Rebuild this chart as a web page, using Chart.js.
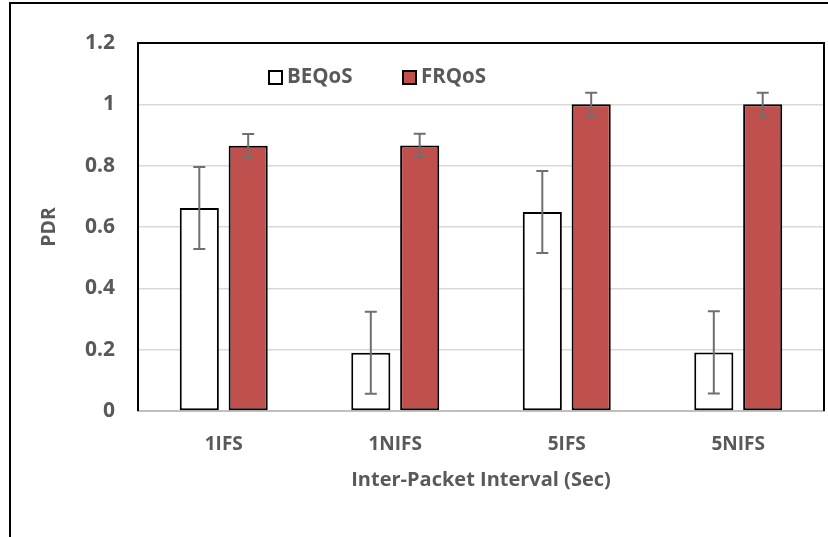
<!DOCTYPE html>
<html>
<head>
<meta charset="utf-8">
<script src="https://cdn.jsdelivr.net/npm/chart.js@4.4.1/dist/chart.umd.min.js"></script>
<style>
    body { margin: 0; background: #fff; }
    #wrap { position: relative; width: 828px; height: 537px; overflow: hidden; }
    #frame { position: absolute; left: 9px; top: 2px; width: 900px; height: 600px;
             border-left: 2px solid #000; border-top: 2px solid #000; pointer-events: none; }
</style>
</head>
<body>
<div id="wrap">
    <canvas id="grafico" width="828" height="537"></canvas>
    <div id="frame"></div>
</div>
<script>
// datos
var categorias = ['1IFS', '1NIFS', '5IFS', '5NIFS'];
var beqos = [0.662, 0.19, 0.649, 0.191];
var frqos = [0.865, 0.866, 1.0, 1.0];
var beqosErr = [0.134, 0.134, 0.134, 0.134];
var frqosErr = [0.038, 0.038, 0.038, 0.038];
var yTicks = [0, 0.2, 0.4, 0.6, 0.8, 1, 1.2];

var gris = '#595959';
var fuente = '"Open Sans", "DejaVu Sans", sans-serif';

// barras de error + borde del area + leyenda
var extras = {
    id: 'extras',
    afterDatasetsDraw: function(chart) {
        var ctx = chart.ctx;
        var y = chart.scales.y;
        var errores = [beqosErr, frqosErr];
        ctx.save();
        ctx.strokeStyle = '#6f6f6f';
        ctx.lineWidth = 2;
        chart.data.datasets.forEach(function(ds, d) {
            var meta = chart.getDatasetMeta(d);
            meta.data.forEach(function(bar, i) {
                var v = ds.data[i];
                var e = errores[d][i];
                var y1 = y.getPixelForValue(v + e);
                var y2 = y.getPixelForValue(v - e);
                ctx.beginPath();
                ctx.moveTo(bar.x, y1); ctx.lineTo(bar.x, y2);
                ctx.moveTo(bar.x - 6, y1); ctx.lineTo(bar.x + 6, y1);
                ctx.moveTo(bar.x - 6, y2); ctx.lineTo(bar.x + 6, y2);
                ctx.stroke();
            });
        });
        ctx.restore();
    },
    afterDraw: function(chart) {
        var ctx = chart.ctx;
        var a = chart.chartArea;
        ctx.save();
        ctx.strokeStyle = '#000';
        ctx.lineWidth = 2;
        ctx.beginPath();
        ctx.moveTo(a.left, a.bottom);
        ctx.lineTo(a.left, a.top);
        ctx.lineTo(a.right, a.top);
        ctx.lineTo(a.right, a.bottom);
        ctx.stroke();

        // leyenda
        var items = [
            { texto: 'BEQoS', color: '#ffffff', x: 269 },
            { texto: 'FRQoS', color: '#C0504D', x: 403 }
        ];
        ctx.font = 'bold 20.5px ' + fuente;
        ctx.textBaseline = 'middle';
        items.forEach(function(it) {
            ctx.fillStyle = it.color;
            ctx.fillRect(it.x, 71, 13, 13);
            ctx.strokeStyle = '#000';
            ctx.lineWidth = 2;
            ctx.strokeRect(it.x, 71, 13, 13);
            ctx.fillStyle = gris;
            ctx.fillText(it.texto, it.x + 18, 77);
        });
        ctx.restore();
    }
};

var grafico = new Chart(document.getElementById('grafico'), {
    type: 'bar',
    data: {
        labels: categorias,
        datasets: [{
            label: 'BEQoS',
            data: beqos,
            backgroundColor: '#ffffff',
            borderColor: '#000000',
            borderWidth: 2,
            borderSkipped: false,
            categoryPercentage: 0.57,
            barPercentage: 0.8
        }, {
            label: 'FRQoS',
            data: frqos,
            backgroundColor: '#C0504D',
            borderColor: '#000000',
            borderWidth: 2,
            borderSkipped: false,
            categoryPercentage: 0.57,
            barPercentage: 0.8
        }]
    },
    options: {
        responsive: false,
        animation: false,
        layout: { padding: { left: 0, top: 43, right: 4, bottom: 0 } },
        plugins: {
            legend: { display: false },
            tooltip: { enabled: false }
        },
        scales: {
            x: {
                grid: { display: false, drawTicks: false },
                border: { display: true, color: '#bfbfbf', width: 2 },
                ticks: { color: gris, font: { family: fuente, size: 19, weight: 'bold' }, padding: 22 },
                title: {
                    display: true,
                    text: 'Inter-Packet Interval (Sec)',
                    color: gris,
                    font: { family: fuente, size: 20, weight: 'bold' },
                    padding: { top: 0, bottom: 45 }
                },
                afterFit: function(scale) { scale.height = 126; }
            },
            y: {
                min: 0,
                max: 1.2,
                grid: { color: '#d9d9d9', lineWidth: 1.5, drawTicks: false },
                border: { display: false },
                afterBuildTicks: function(scale) {
                    scale.ticks = yTicks.map(function(v) { return { value: v }; });
                },
                ticks: {
                    color: gris,
                    font: { family: fuente, size: 21, weight: 'bold' },
                    padding: 23,
                    callback: function(v) { return String(Number(v.toFixed(1))); }
                },
                title: {
                    display: true,
                    text: 'PDR',
                    color: gris,
                    font: { family: fuente, size: 19.5, weight: 'bold' },
                    padding: { top: 38, bottom: 0 }
                },
                afterFit: function(scale) { scale.width = 138; }
            }
        }
    },
    plugins: [extras]
});
</script>
</body>
</html>
